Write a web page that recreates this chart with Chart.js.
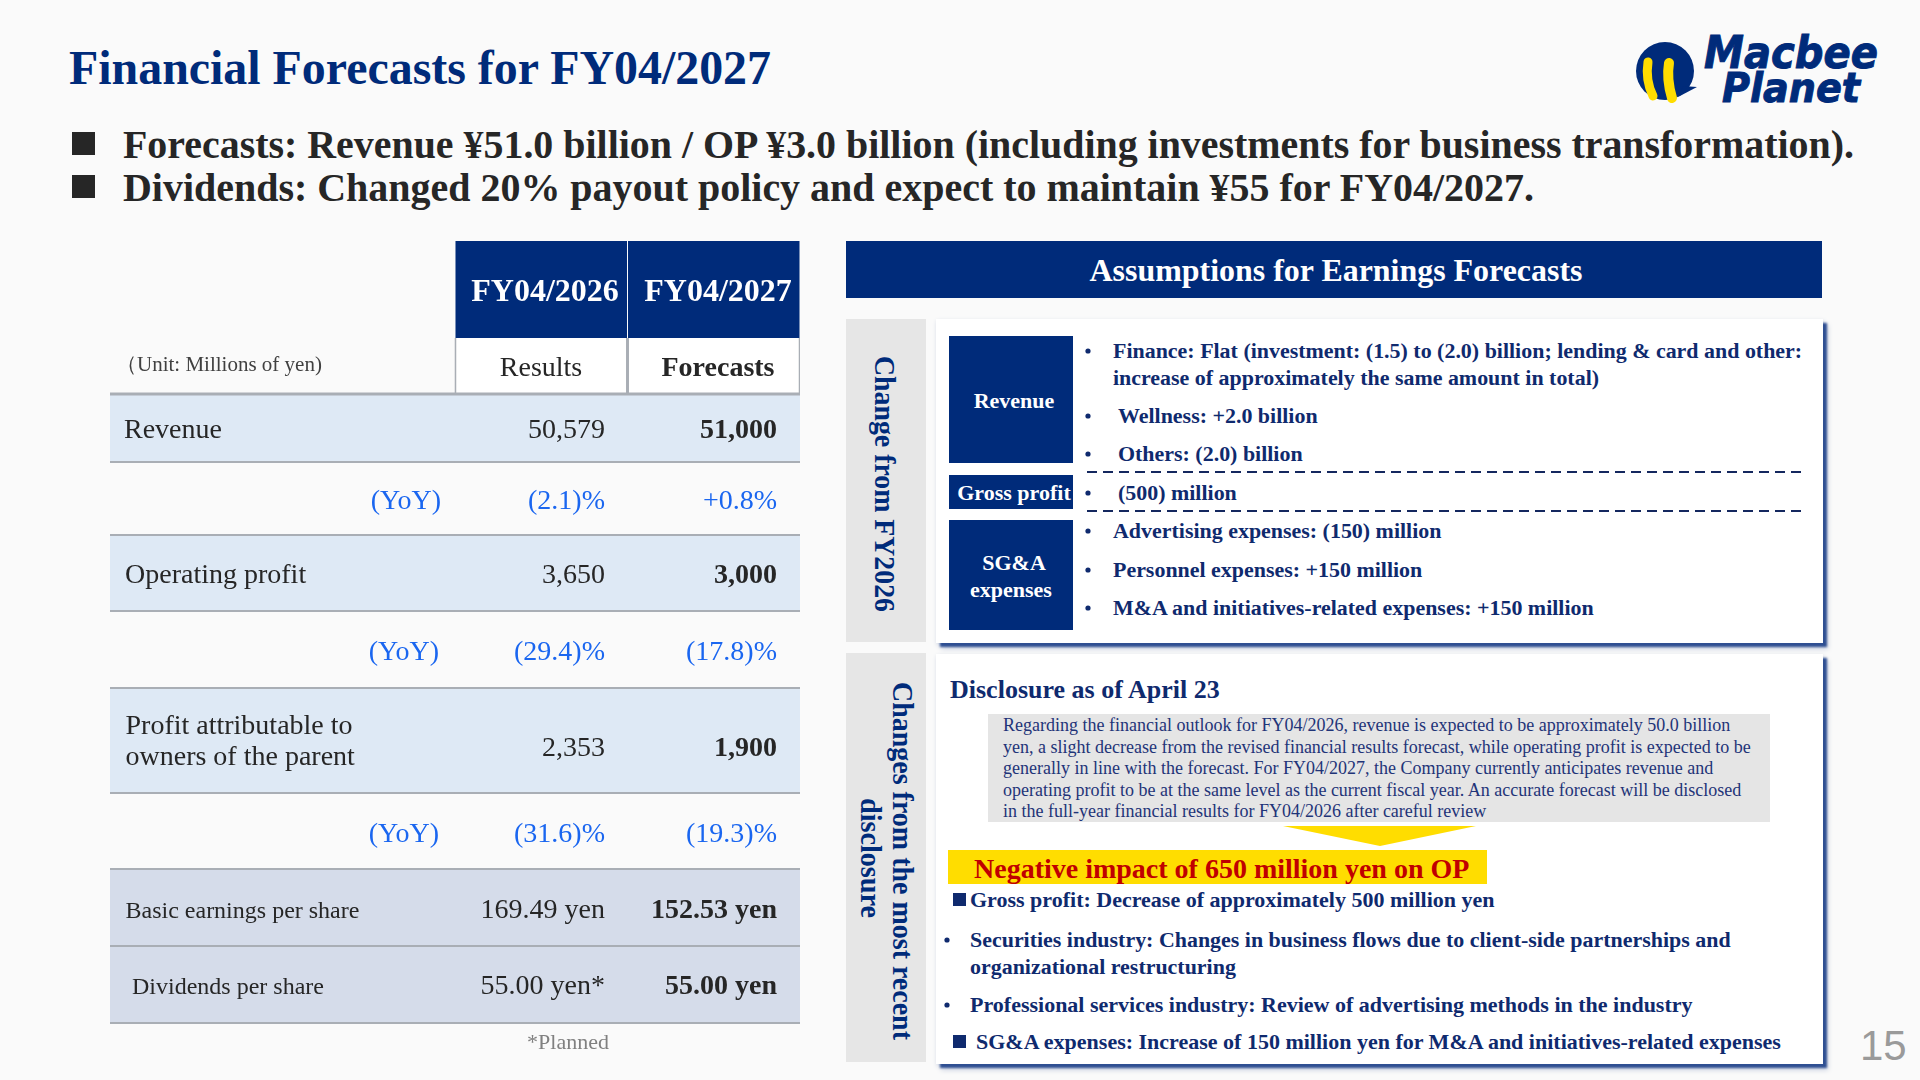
<!DOCTYPE html>
<html>
<head>
<meta charset="utf-8">
<title>Financial Forecasts for FY04/2027</title>
<script src="https://cdn.jsdelivr.net/npm/chart.js@4/dist/chart.umd.min.js"></script>
<style>
    html, body { margin: 0; padding: 0; background: #fafafa; }
    #slide { position: relative; width: 1920px; height: 1080px; overflow: hidden; background: #fafafa; }
    #overlay { position: absolute; left: 0; top: 0; }
    #overlay text { font-family: "Liberation Serif", serif; white-space: pre; }
    #tableChart { position: absolute; left: 110px; top: 241px; }
</style>
</head>
<body>
<div id="slide">
    <svg id="overlay" width="1920" height="1080" xmlns="http://www.w3.org/2000/svg"></svg>
    <canvas id="tableChart" width="690" height="834"></canvas>
</div>
<script>
// table contents
const columns = ['label', 'label2', 'FY04/2026', 'FY04/2027'];
const subHeads = ['Results', 'Forecasts'];
const rowLabels = ['Revenue', '(YoY)', 'Operating profit', '(YoY)', ['Profit attributable to', 'owners of the parent'], '(YoY)', 'Basic earnings per share', 'Dividends per share'];
const results = ['50,579', '(2.1)%', '3,650', '(29.4)%', '2,353', '(31.6)%', '169.49 yen', '55.00 yen*'];
const forecasts = ['51,000', '+0.8%', '3,000', '(17.8)%', '1,900', '(19.3)%', '152.53 yen', '55.00 yen'];

// slide text
const title = 'Financial Forecasts for FY04/2027';
const headlines = [
    'Forecasts: Revenue ¥51.0 billion / OP ¥3.0 billion (including investments for business transformation).',
    'Dividends: Changed 20% payout policy and expect to maintain ¥55 for FY04/2027.'
];
const revenueItems = ['Finance: Flat (investment: (1.5) to (2.0) billion; lending & card and other:', 'increase of approximately the same amount in total)', 'Wellness: +2.0 billion', 'Others: (2.0) billion'];
const grossItems = ['(500) million'];
const sgaItems = ['Advertising expenses: (150) million', 'Personnel expenses: +150 million', 'M&A and initiatives-related expenses: +150 million'];
const disclosureLines = [
    'Regarding the financial outlook for FY04/2026, revenue is expected to be approximately 50.0 billion',
    'yen, a slight decrease from the revised financial results forecast, while operating profit is expected to be',
    'generally in line with the forecast. For FY04/2027, the Company currently anticipates revenue and',
    'operating profit to be at the same level as the current fiscal year. An accurate forecast will be disclosed',
    'in the full-year financial results for FY04/2026 after careful review'
];

const NAVY = '#002b7a';
const INK = '#0f2a6e';
const BLUE = '#1a66f0';
const DARK = '#262626';

// ---- slide furniture in svg ----
const svg = document.getElementById('overlay');
const NS = 'http://www.w3.org/2000/svg';

function add(tag, attrs, parent) {
    const el = document.createElementNS(NS, tag);
    Object.keys(attrs).forEach(k => el.setAttribute(k, attrs[k]));
    (parent || svg).appendChild(el);
    return el;
}
function box(x, y, w, h, fill, extra) {
    return add('rect', Object.assign({ x: x, y: y, width: w, height: h, fill: fill }, extra || {}));
}
function put(str, x, y, size, color, opts) {
    const o = opts || {};
    const attrs = { x: x, y: y, 'font-size': size, fill: color };
    if (o.bold !== false) attrs['font-weight'] = 'bold';
    if (o.anchor) attrs['text-anchor'] = o.anchor;
    if (o.family) attrs.style = 'font-family:' + o.family;
    if (o.italic) attrs['font-style'] = 'italic';
    if (o.heavy) { attrs.stroke = color; attrs['stroke-width'] = o.heavy; }
    if (o.fit) { attrs.textLength = o.fit; attrs.lengthAdjust = 'spacingAndGlyphs'; }
    if (o.rotate) attrs.transform = 'rotate(90 ' + x + ' ' + y + ')';
    const el = add('text', attrs);
    el.textContent = str;
    return el;
}

put(title, 69, 83.5, 48, NAVY, { fit: 702 });
box(72, 132, 23, 23, DARK);
box(72, 175, 23, 23, DARK);
put(headlines[0], 123, 158, 40, DARK, { fit: 1731 });
put(headlines[1], 123, 201, 40, DARK, { fit: 1411 });

// logo
add('circle', { cx: 1665, cy: 71, r: 29, fill: NAVY });
add('polygon', { points: '1683,86 1697,87 1678,97', fill: NAVY });
add('path', { d: 'M1648,62 C1646,75 1649,88 1653,96', stroke: '#ffdd00', 'stroke-width': 9, fill: 'none', 'stroke-linecap': 'round' });
add('path', { d: 'M1669,63 C1667,75 1669,88 1672,98', stroke: '#ffdd00', 'stroke-width': 10, fill: 'none', 'stroke-linecap': 'round' });
put('Macbee', 1704, 68, 44, NAVY, { family: '"DejaVu Sans"', italic: true, fit: 174, heavy: 1 });
put('Planet', 1722, 102, 40, NAVY, { family: '"DejaVu Sans"', italic: true, fit: 138, heavy: 1 });

// right column
box(846, 241, 976, 57, NAVY);
put('Assumptions for Earnings Forecasts', 1336, 281, 32, '#ffffff', { anchor: 'middle', fit: 493 });

box(846, 319, 80, 323, '#e6e6e6');
box(846, 653, 80, 409, '#e6e6e6');
put('Change from FY2026', 875, 356, 29, NAVY, { rotate: true, fit: 256 });
put('Changes from the most recent', 893, 682, 29, NAVY, { rotate: true, fit: 358 });
put('disclosure', 861, 798, 29, NAVY, { rotate: true, fit: 120 });

const panelShadow = 'filter: drop-shadow(4px 4px 1px #2f4f92) drop-shadow(1px 2px 2px #c9d0e0);';
box(936, 319, 887, 324, '#ffffff', { style: panelShadow });
box(936, 654, 887, 410, '#ffffff', { style: panelShadow });

box(949, 336, 124, 127, NAVY);
box(949, 475, 124, 34, NAVY);
box(949, 520, 124, 110, NAVY);
put('Revenue', 1014, 408, 22, '#ffffff', { anchor: 'middle' });
put('Gross profit', 1014, 500, 22, '#ffffff', { anchor: 'middle' });
put('SG&A', 1014, 570, 22, '#ffffff', { anchor: 'middle' });
put('expenses', 1011, 597, 22, '#ffffff', { anchor: 'middle' });

function dot(x, y) { add('circle', { cx: x, cy: y, r: 2.6, fill: INK }); }
function item(str, x, y, withDot) {
    if (withDot) dot(1088, y - 7);
    put(str, x, y, 21.95, INK);
}
item(revenueItems[0], 1113, 358, true);
item(revenueItems[1], 1113, 385, false);
item(revenueItems[2], 1118, 423, true);
item(revenueItems[3], 1118, 461, true);
item(grossItems[0], 1118, 500, true);
item(sgaItems[0], 1113, 538, true);
item(sgaItems[1], 1113, 577, true);
item(sgaItems[2], 1113, 615, true);
[472, 511].forEach(y => add('line', { x1: 1087, x2: 1802, y1: y, y2: y, stroke: '#14285f', 'stroke-width': 2, 'stroke-dasharray': '10 6' }));

put('Disclosure as of April 23', 950, 698, 26, INK);
box(988, 714, 782, 108, '#e5e5e5');
disclosureLines.forEach((line, i) => put(line, 1003, 731 + i * 21.6, 18, '#1f3478', { bold: false }));
add('polygon', { points: '1283,826 1476,826 1380,846', fill: '#ffdd00' });
box(948, 850, 539, 34, '#ffdd00');
put('Negative impact of 650 million yen on OP', 974, 878, 28, '#c00000');

box(953, 893, 13, 13, INK);
put('Gross profit: Decrease of approximately 500 million yen', 970, 907, 22, INK);
dot(947, 940);
put('Securities industry: Changes in business flows due to client-side partnerships and', 970, 947, 21.95, INK);
put('organizational restructuring', 970, 974, 21.95, INK);
dot(947, 1005);
put('Professional services industry: Review of advertising methods in the industry', 970, 1012, 22, INK);
box(953, 1035, 13, 13, INK);
put('SG&A expenses: Increase of 150 million yen for M&A and initiatives-related expenses', 976, 1049, 22, INK);

put('15', 1860, 1060, 42, '#9a9a9a', { bold: false, family: '"Liberation Sans"' });

// ---- the table, drawn with chart.js ----
const rowEdges = [241, 338, 394, 463, 536, 612, 689, 794, 870, 947, 1024];
const rowFill = ['#002b7a', '#ffffff', '#dee9f5', '#fafafa', '#dee9f5', '#fafafa', '#dee9f5', '#fafafa', '#d5dcea', '#d5dcea'];
const TABLE_LEFT = 110;

function rowDataset(i) {
    const band = [rowEdges[i], rowEdges[i + 1]];
    const headerRow = i < 2;
    const data = columns.map((c, col) => (headerRow && col < 2) ? null : band);
    let border = { top: 0, left: 0, right: 0, bottom: 2 };
    if (i === 0) border = { top: 0, left: 1, right: 1, bottom: 0 };
    if (i === 1) border = { top: 0, left: 2, right: 2, bottom: 0 };
    return {
        data: data,
        backgroundColor: rowFill[i],
        borderColor: i === 0 ? '#ffffff' : '#a9aeb5',
        borderWidth: border,
        borderSkipped: false,
        grouped: false,
        categoryPercentage: 1,
        barPercentage: 1.006
    };
}

const rowIndexes = rowEdges.slice(1).map((e, i) => i);
const tableLines = {
    id: 'tableLines',
    afterDatasetsDraw(chart) {
        const ctx = chart.ctx;
        const y = chart.scales.y;
        ctx.save();
        ctx.strokeStyle = '#a9aeb5';
        ctx.lineWidth = 3;
        ctx.beginPath();
        ctx.moveTo(0, y.getPixelForValue(394));
        ctx.lineTo(690, y.getPixelForValue(394));
        ctx.stroke();
        ctx.restore();
    }
};

const cellBaselines = [438, 509, 583, 660, 756, 842, 917.5, 994];
const labelStyle = [
    { x: 124, size: 28 }, { x: 441, size: 28 }, { x: 125, size: 28 }, { x: 439, size: 28 },
    { x: 125.5, size: 28 }, { x: 439, size: 28 }, { x: 125.5, size: 24 }, { x: 132, size: 24 }
];
const tableText = {
    id: 'tableText',
    afterDraw(chart) {
        const ctx = chart.ctx;
        const y = chart.scales.y;
        const draw = (str, x, base, font, color, align) => {
            ctx.font = font;
            ctx.fillStyle = color;
            ctx.textAlign = align;
            ctx.textBaseline = 'alphabetic';
            ctx.fillText(str, x - TABLE_LEFT, y.getPixelForValue(base));
        };
        const serif = '"Liberation Serif"';
        ctx.save();
        draw(columns[2], 545, 301, 'bold 32px ' + serif, '#ffffff', 'center');
        draw(columns[3], 718, 301, 'bold 32px ' + serif, '#ffffff', 'center');
        draw(subHeads[0], 541, 376, '28px ' + serif, DARK, 'center');
        draw(subHeads[1], 718, 376, 'bold 28px ' + serif, DARK, 'center');
        draw('（Unit: Millions of yen)', 116, 371, '21px ' + serif, '#404040', 'left');

        rowLabels.forEach((label, i) => {
            const isYoy = label === '(YoY)';
            const st = labelStyle[i];
            const base = cellBaselines[i];
            if (Array.isArray(label)) {
                draw(label[0], st.x, 734, st.size + 'px ' + serif, DARK, 'left');
                draw(label[1], st.x, 765, st.size + 'px ' + serif, DARK, 'left');
            } else {
                draw(label, st.x, base, st.size + 'px ' + serif, isYoy ? BLUE : DARK, isYoy ? 'right' : 'left');
            }
            draw(results[i], 605, base, '28px ' + serif, isYoy ? BLUE : DARK, 'right');
            draw(forecasts[i], 777, base, (isYoy ? '' : 'bold ') + '28px ' + serif, isYoy ? BLUE : DARK, 'right');
        });
        draw('*Planned', 609, 1049, '22px ' + serif, '#808080', 'right');
        ctx.restore();
    }
};

new Chart(document.getElementById('tableChart'), {
    type: 'bar',
    data: { labels: columns, datasets: rowIndexes.map(rowDataset) },
    options: {
        responsive: false,
        animation: false,
        devicePixelRatio: 1,
        layout: { padding: 0 },
        plugins: { legend: { display: false }, tooltip: { enabled: false } },
        scales: {
            x: { display: false, offset: true },
            y: { display: false, reverse: true, min: 241, max: 1075 }
        }
    },
    plugins: [tableLines, tableText]
});
</script>
</body>
</html>
